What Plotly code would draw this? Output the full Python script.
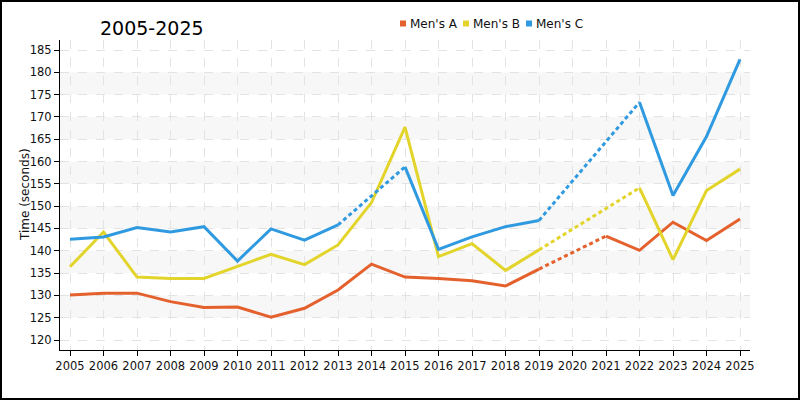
import plotly.graph_objects as go

years = list(range(2005, 2026))
mens_a = [130.1, 130.5, 130.5, 128.6, 127.3, 127.4, 125.1, 127.1, 131.2, 137.0, 134.1, 133.8, 133.3, 132.1, 135.9, None, 143.3, 140.1, 146.4, 142.3, 147.1]
mens_b = [136.4, 144.2, 134.1, 133.8, 133.8, 136.5, 139.2, 136.9, 141.3, 150.8, 167.7, 138.7, 141.6, 135.6, 140.2, None, None, 154.1, 138.0, 153.5, 158.3]
mens_c = [142.6, 143.1, 145.2, 144.2, 145.4, 137.7, 144.9, 142.4, 145.8, None, 158.8, 140.3, 143.1, 145.4, 146.8, None, None, 173.3, 152.4, 165.6, 182.9]
series_names = ["Men's A", "Men's B", "Men's C"]
colors = ["#e4612e", "#e3d42b", "#2f9ae0"]
y_ticks = list(range(120, 186, 5))
bands = [(125, 130), (135, 140), (145, 150), (155, 160), (165, 170), (175, 180)]

L, R, T, B = 60, 50, 40, 50
PW, PH = 800 - L - R, 400 - T - B

def px_x(p):
    return (p - L) / PW

def px_y(p):
    return 1 - (p - T) / PH

fig = go.Figure()

def gap_segments(xs, ys):
    segx, segy = [], []
    n = len(ys)
    i = 0
    while i < n:
        if ys[i] is None and i > 0 and ys[i - 1] is not None:
            j = i
            while j < n and ys[j] is None:
                j += 1
            if j < n:
                segx += [xs[i - 1], xs[j], None]
                segy += [ys[i - 1], ys[j], None]
            i = j
        else:
            i += 1
    return segx, segy

for name, vals, col in zip(series_names, [mens_a, mens_b, mens_c], colors):
    fig.add_trace(go.Scatter(x=years, y=vals, mode="lines", line=dict(color=col, width=3),
                             connectgaps=False, showlegend=False, hoverinfo="skip", name=name))
    gx, gy = gap_segments(years, vals)
    fig.add_trace(go.Scatter(x=gx, y=gy, mode="lines", line=dict(color=col, width=3, dash="4px,3px"),
                             showlegend=False, hoverinfo="skip"))

for lo, hi in bands:
    fig.add_shape(type="rect", xref="paper", yref="y", x0=0, x1=1, y0=lo, y1=hi,
                  fillcolor="#f7f7f7", line=dict(width=0), layer="below")

# outer border
fig.add_shape(type="rect", xref="paper", yref="paper",
              x0=px_x(1), x1=px_x(799), y0=px_y(399), y1=px_y(1),
              line=dict(color="black", width=2), fillcolor="rgba(0,0,0,0)")

# legend drawn as squares + labels
legend_x = [400, 463, 526]
for name, col, lx in zip(series_names, colors, legend_x):
    fig.add_shape(type="rect", xref="paper", yref="paper",
                  x0=px_x(lx), x1=px_x(lx + 6), y0=px_y(26.5), y1=px_y(20.5),
                  fillcolor=col, line=dict(width=0))
    fig.add_annotation(text=name, xref="paper", yref="paper", x=px_x(lx + 8), y=px_y(23.5),
                       xanchor="left", yanchor="middle", showarrow=False,
                       font=dict(size=12, color="#111"))

# y-axis title
fig.add_annotation(text="Time (seconds)", xref="paper", yref="paper", x=px_x(25), y=px_y(195),
                   xanchor="center", yanchor="middle", textangle=-90, showarrow=False,
                   font=dict(size=12, color="#111"))

fig.update_layout(
    width=800, height=400,
    margin=dict(l=L, r=R, t=T, b=B),
    paper_bgcolor="white", plot_bgcolor="white",
    font=dict(family="DejaVu Sans", size=11.5, color="#111"),
    showlegend=False,
    title=dict(text="2005-2025", x=100 / 800, xanchor="left", xref="container",
               y=1 - 28 / 400, yanchor="middle", yref="container", pad=dict(l=0, r=0, t=0, b=0),
               font=dict(size=19, color="black")),
    xaxis=dict(range=[2005 - 10 / 33.5, 2025 + 10 / 33.5], tickmode="array", tickvals=years,
               ticktext=[str(y) for y in years], tickangle=0, automargin=False,
               showline=True, linecolor="black", linewidth=1,
               ticks="outside", ticklen=5, tickcolor="black",
               showgrid=True, gridcolor="#e3e3e3", griddash="dash", gridwidth=1, zeroline=False),
    yaxis=dict(range=[120 - 10 / 4.4615, 185 + 10 / 4.4615], tickmode="array",
               tickvals=y_ticks, automargin=False, showline=True, linecolor="black", linewidth=1,
               ticks="outside", ticklen=5, tickcolor="black",
               showgrid=True, gridcolor="#e3e3e3", griddash="dash", gridwidth=1, zeroline=False),
)

fig.write_html("out.html", config={"displayModeBar": False},
               post_script="document.body.style.margin='0px';")
